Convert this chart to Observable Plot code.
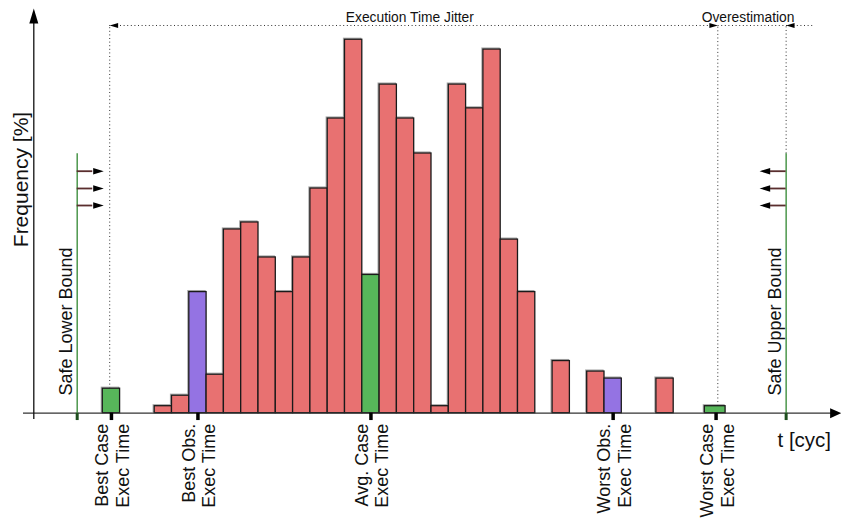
<!DOCTYPE html>
<html><head><meta charset="utf-8">
<script src="https://cdn.jsdelivr.net/npm/d3@7"></script>
<script src="https://cdn.jsdelivr.net/npm/@observablehq/plot@0.6"></script>
<style>body{margin:0;background:#fff;}</style>
</head><body><div id="chart"></div>
<script>
// ---- data (x in histogram-bin units of execution time, y in % frequency) ----
const binStart = [0, 3, 4, 5, 6, 7, 8, 9, 10, 11, 12, 13, 14, 15, 16, 17, 18, 19, 20, 21, 22, 23, 24, 26, 28, 29, 32, 34.8];
const binEnd   = [1, 4, 5, 6, 7, 8, 9, 10, 11, 12, 13, 14, 15, 16, 17, 18, 19, 20, 21, 22, 23, 24, 25, 27, 29, 30, 33, 36.0];
const freq     = [0.70, 0.20, 0.50, 3.46, 1.10, 5.25, 5.45, 4.45, 3.46, 4.45, 6.42, 8.42, 10.67, 3.95, 9.39, 8.42, 7.42, 0.20, 9.39, 8.71, 10.39, 4.96, 3.46, 1.49, 1.19, 0.99, 0.99, 0.20];
const kind     = ["case","sample","sample","obs","sample","sample","sample","sample","sample","sample","sample","sample","sample","case","sample","sample","sample","sample","sample","sample","sample","sample","sample","sample","sample","obs","sample","case"];

const markerX     = [0.5, 5.5, 15.5, 29.5, 35.45];
const markerLine1 = ["Best Case", "Best Obs.", "Avg. Case", "Worst Obs.", "Worst Case"];
const markerLine2 = ["Exec Time", "Exec Time", "Exec Time", "Exec Time", "Exec Time"];

const boundX      = [-1.48, 39.5];
const boundLabels = ["Safe Lower Bound", "Safe Upper Bound"];
const boundTop    = 7.41;
const boundArrowY = [6.914, 6.42, 5.934];

const jitterFrom = 0.4, jitterTo = 35.55, jitterY = 11.077, dottedEnd = 41.06;
const bestCaseTop = 0.70, worstCaseTop = 0.20;
const spanLabels  = ["Execution Time Jitter", "Overestimation"];
const spanLabelX  = [17.75, 37.3];

const yAxisX = -3.988, xAxisStart = -4.584, xAxisTip = 42.69, yAxisTip = 11.563;

// ---- helpers ----
const colors = {sample: "#E87171", obs: "#9473E3", case: "#57B65A"};
const bars = binStart.map((s, i) => ({x1: s, x2: binEnd[i], y: freq[i], kind: kind[i]}));
const markers = markerX.map((x, i) => ({x, l1: markerLine1[i], l2: markerLine2[i]}));
const bounds = boundX.map((x, i) => ({x, label: boundLabels[i]}));

function arrowSymbol(ratio) {
  return {draw(ctx, size) {
    const r = Math.sqrt(size / Math.PI), L = 2 * r, w = ratio * r;
    ctx.moveTo(0, 0); ctx.lineTo(-L, -w); ctx.lineTo(-L, w); ctx.closePath();
  }};
}
const headThin = arrowSymbol(0.6);
const headWide = arrowSymbol(0.9);

const FONT = "Liberation Sans, Arial, Helvetica, sans-serif";
const dotted = {stroke: "#333", strokeWidth: 1, strokeDasharray: "1,2.6"};

const arrowsLower = boundArrowY.map(y => ({x1: boundX[0], x2: boundX[0] + 0.9, y}));
const arrowsUpper = boundArrowY.map(y => ({x1: boundX[1], x2: boundX[1] - 0.9, y}));

const chart = Plot.plot({
  width: 841, height: 520,
  marginTop: 0, marginRight: 0, marginBottom: 0, marginLeft: 0,
  x: {type: "linear", domain: [-5.913, 42.70], range: [0, 841], axis: null},
  y: {type: "linear", domain: [0, 11.791], range: [412.7, 0], axis: null},
  style: {fontFamily: FONT, background: "white"},
  marks: [
    // dotted guide lines
    Plot.ruleX([jitterFrom], {y1: bestCaseTop, y2: jitterY, ...dotted}),
    Plot.ruleX([jitterTo], {y1: worstCaseTop, y2: jitterY, ...dotted}),
    Plot.ruleX([boundX[1]], {y1: boundTop, y2: jitterY, ...dotted}),
    Plot.ruleY([jitterY], {x1: jitterFrom, x2: dottedEnd, ...dotted}),
    Plot.dot([jitterFrom], {x: d => d, y: jitterY, symbol: headThin, r: 4.2, rotate: 180, fill: "black", stroke: "none"}),
    Plot.dot([jitterTo], {x: d => d, y: jitterY, symbol: headThin, r: 4.2, rotate: 0, fill: "black", stroke: "none"}),
    Plot.dot([boundX[1]], {x: d => d, y: jitterY, symbol: headThin, r: 4.2, rotate: 180, fill: "black", stroke: "none"}),
    Plot.text(spanLabels, {x: (d, i) => spanLabelX[i], y: jitterY, text: d => d, dy: -8, fontSize: 13.8, fill: "#111"}),

    // histogram bars (shadow then bar)
    Plot.rectY(bars, {x1: "x1", x2: "x2", y: "y", fill: "none", stroke: "#aaa", strokeWidth: 1.2, dx: -1, dy: -1}),
    Plot.rectY(bars, {x1: "x1", x2: "x2", y: "y", fill: d => colors[d.kind], stroke: "#1a1a1a", strokeWidth: 1.3}),

    // axes
    Plot.ruleY([0], {x1: xAxisStart, x2: xAxisTip - 0.5, stroke: "#333", strokeWidth: 1.3}),
    Plot.dot([0], {x: xAxisTip, y: d => d, symbol: headWide, r: 5.6, rotate: 0, fill: "black", stroke: "none"}),
    Plot.ruleX([yAxisX], {y1: -0.18, y2: yAxisTip - 0.3, stroke: "#111", strokeWidth: 1.3}),
    Plot.dot([yAxisX], {x: d => d, y: yAxisTip, symbol: headThin, r: 7.5, rotate: -90, fill: "black", stroke: "none"}),

    // safe bounds
    Plot.ruleX(boundX, {y1: 0, y2: boundTop, stroke: "#3f8f3f", strokeWidth: 1.4}),
    Plot.ruleY(arrowsLower, {x1: "x1", x2: "x2", y: "y", stroke: "#5a2e2e", strokeWidth: 1.8}),
    Plot.ruleY(arrowsUpper, {x1: "x1", x2: "x2", y: "y", stroke: "#5a2e2e", strokeWidth: 1.8}),
    Plot.dot(arrowsLower, {x: "x2", y: "y", symbol: headThin, r: 5.3, rotate: 0, fill: "black", stroke: "none", dx: 11}),
    Plot.dot(arrowsUpper, {x: "x2", y: "y", symbol: headThin, r: 5.3, rotate: 180, fill: "black", stroke: "none", dx: -11}),
    Plot.ruleX(boundX, {y1: 0, y2: -0.21, stroke: "#1f4f1f", strokeWidth: 3}),
    Plot.text(bounds, {x: "x", y: 0, text: "label", rotate: -90, textAnchor: "start", lineAnchor: "bottom", dx: -5.5, dy: -17.7, fontSize: 18, fill: "#111"}),

    // marker ticks + labels
    Plot.ruleX(markers, {x: "x", y1: 0, y2: -0.21, stroke: "black", strokeWidth: 3.5}),
    Plot.text(markers, {x: "x", y: 0, text: "l1", rotate: -90, textAnchor: "end", lineAnchor: "bottom", dx: -3.3, dy: 10.6, fontSize: 18, fill: "#111"}),
    Plot.text(markers, {x: "x", y: 0, text: "l2", rotate: -90, textAnchor: "end", lineAnchor: "bottom", dx: 17.5, dy: 10.6, fontSize: 18, fill: "#111"}),

    // axis titles
    Plot.text(["Frequency [%]"], {x: yAxisX, y: 6.677, text: d => d, rotate: -90, textAnchor: "middle", lineAnchor: "bottom", dx: -5.5, fontSize: 21, fill: "#111"}),
    Plot.text(["t [cyc]"], {x: 39.0, y: 0, text: d => d, textAnchor: "start", lineAnchor: "bottom", dy: 33.5, fontSize: 20.5, fill: "#111"})
  ]
});
document.getElementById("chart").appendChild(chart);
</script>
</body></html>
